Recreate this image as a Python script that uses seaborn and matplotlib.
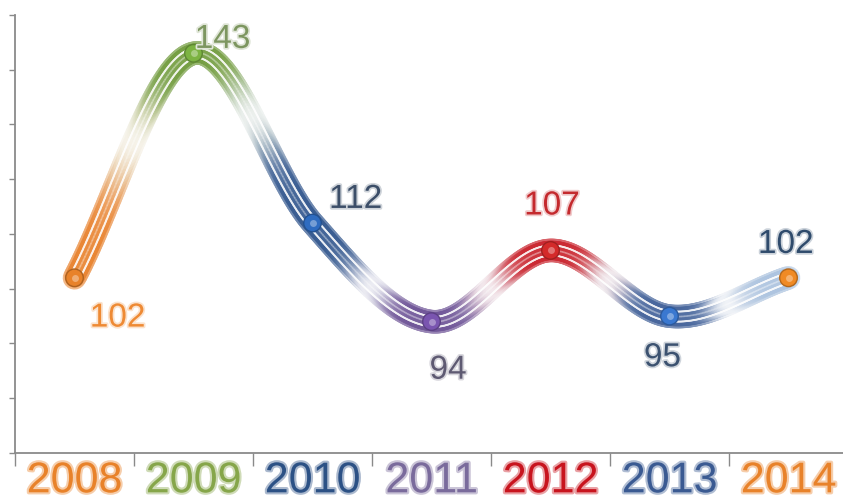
import numpy as np
import pandas as pd
import matplotlib
matplotlib.use("Agg")
import matplotlib.pyplot as plt
import seaborn as sns
from matplotlib.collections import LineCollection
from matplotlib.colors import to_rgb
import matplotlib.patheffects as pe

# ---- data ----
years = ["2008", "2009", "2010", "2011", "2012", "2013", "2014"]
values = [102, 143, 112, 94, 107, 95, 102]

# ---- styles ----
label_colors = ["#e8822a", "#86a64a", "#2c5185", "#7a6b9c", "#c8141e", "#3a5a92", "#e8822a"]
value_colors = ["#ee8a34", "#7d9660", "#3c4e68", "#5e5a72", "#c42a2e", "#3c5270", "#2f4b6c"]
marker_colors = ["#e8822a", "#7cb342", "#2f6cc0", "#7a55b0", "#d42a2a", "#3a78d0", "#f08a24"]
tube_colors = ["#e8802a", "#6f9a3a", "#2f548c", "#6a4f94", "#c81e28", "#3f5f98", "#a9c1de"]
label_offsets = [(31, -29), (21, 10), (31, 17), (12, -35), (1, 32), (-5, -30), (-2, 24)]

sns.set_theme(style="white")
plt.rcParams["font.family"] = ["Liberation Sans", "DejaVu Sans"]

fig = plt.figure(figsize=(8.43, 5.0), dpi=100)
ax = fig.add_axes([15 / 843, 47 / 500, 833 / 843, 438 / 500])

df = pd.DataFrame({"year": years, "value": values})
pos = np.arange(len(years), dtype=float)
vals = np.asarray(values, dtype=float)

# smooth curve (cardinal/Catmull-Rom hermite) for the tube drawing
m = np.zeros_like(vals)
m[1:-1] = (vals[2:] - vals[:-2]) / 2.0
m[0] = vals[1] - vals[0]
m[-1] = vals[-1] - vals[-2]
xs, ys, cols = [], [], []
white = np.array([1.0, 1.0, 1.0])
for i in range(len(vals) - 1):
    t = np.linspace(0, 1, 80, endpoint=(i == len(vals) - 2))
    h00 = 2 * t**3 - 3 * t**2 + 1
    h10 = t**3 - 2 * t**2 + t
    h01 = -2 * t**3 + 3 * t**2
    h11 = t**3 - t**2
    xs.append(pos[i] + t)
    ys.append(h00 * vals[i] + h10 * m[i] + h01 * vals[i + 1] + h11 * m[i + 1])
    c0, c1 = np.array(to_rgb(tube_colors[i])), np.array(to_rgb(tube_colors[i + 1]))
    for tt in t:
        s = 0.5 - 0.5 * np.cos(np.pi * np.clip((tt - 0.25) / 0.5, 0, 1))
        base = c0 * (1 - s) + c1 * s
        w = 0.88 * np.exp(-((tt - 0.5) / 0.17) ** 2)
        cols.append(base * (1 - w) + white * w)
xs = np.concatenate(xs)
ys = np.concatenate(ys)
cols = np.array(cols)
pts = np.column_stack([xs, ys]).reshape(-1, 1, 2)
segs = np.concatenate([pts[:-1], pts[1:]], axis=1)
segcols = cols[:-1]

def light(c, a):
    return c * (1 - a) + white * a

ax.add_collection(LineCollection(segs, colors=light(segcols, 0.3), linewidths=17, capstyle="round", zorder=2, alpha=0.8))
ax.add_collection(LineCollection(segs, colors=light(segcols, 0.05), linewidths=14, capstyle="round", zorder=2.5, alpha=0.85))
ax.add_collection(LineCollection(segs, colors=light(segcols, 0.9), linewidths=8.5, capstyle="round", zorder=3, alpha=0.9))
ax.add_collection(LineCollection(segs, colors=light(segcols, 0.1), linewidths=5.5, capstyle="round", zorder=4, alpha=0.9))
ax.add_collection(LineCollection(segs, colors=light(segcols, 0.55), linewidths=1.2, capstyle="round", zorder=5, alpha=0.6))

# markers
sns.scatterplot(data=df, x="year", y="value", hue="year", palette=marker_colors,
                s=160, edgecolor=[tuple(np.array(to_rgb(c)) * 0.75) for c in marker_colors],
                linewidth=1, legend=False, zorder=6, ax=ax)
sns.scatterplot(data=df, x="year", y="value", color="white", s=25, alpha=0.35,
                linewidth=0, legend=False, zorder=7, ax=ax)

# value labels
for i, v in enumerate(values):
    ax.annotate(str(v), (pos[i], v), xytext=label_offsets[i], textcoords="offset points",
                ha="center", va="center", fontsize=24, color=value_colors[i], zorder=8,
                path_effects=[pe.withStroke(linewidth=2.5, foreground=light(np.array(to_rgb(value_colors[i])), 0.75))])

ax.set_xlim(-0.5, len(years) - 0.5)
ax.set_ylim(70, 150)
ax.set_yticks(np.arange(70, 151, 10))
ax.set_yticklabels([])
ax.set_xticks(pos)
ax.set_xticklabels(years, fontsize=31)
for lbl, c in zip(ax.get_xticklabels(), label_colors):
    lbl.set_color(c)
    lbl.set_path_effects([pe.withStroke(linewidth=3, foreground=light(np.array(to_rgb(c)), 0.6))])
ax.set_xticks(np.arange(-0.5, len(years), 1.0), minor=True)
ax.tick_params(axis="x", which="major", length=0, pad=6)
ax.tick_params(axis="x", which="minor", length=9, width=1, color="#8a8a8a", direction="out", bottom=True)
ax.tick_params(axis="y", length=4, width=1, color="#8a8a8a", direction="out", left=True)
ax.set_xlabel("")
ax.set_ylabel("")
for s in ["top", "right"]:
    ax.spines[s].set_visible(False)
for s in ["left", "bottom"]:
    ax.spines[s].set_color("#8a8a8a")
    ax.spines[s].set_linewidth(1.3)

fig.savefig("out.png", dpi=100)
